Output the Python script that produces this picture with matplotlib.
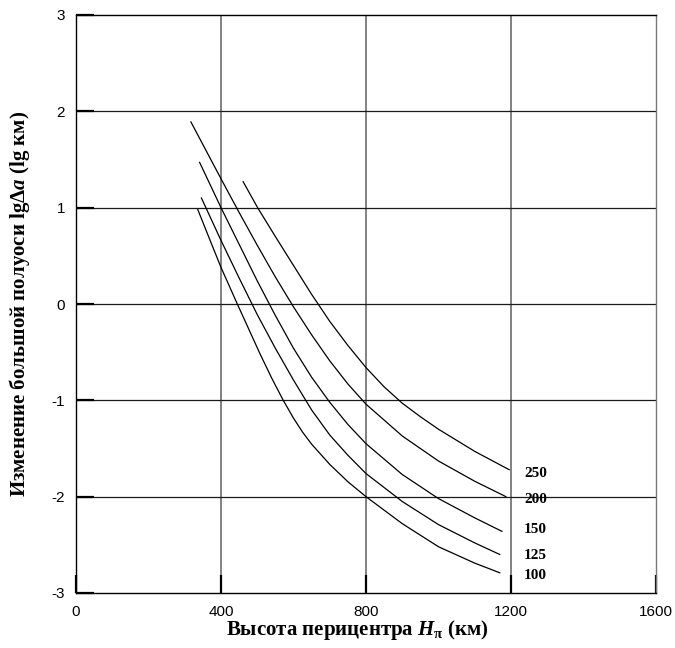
import numpy as np
import matplotlib
matplotlib.use("Agg")
import matplotlib.pyplot as plt

# ---- data ----
x_100 = [336, 370, 400, 445, 508, 540, 571, 600, 625, 650, 700, 750, 800, 900, 1000, 1100, 1169]
y_100 = [0.98, 0.66, 0.38, 0.0, -0.52, -0.77, -0.995, -1.185, -1.33, -1.455, -1.665, -1.845, -2.0, -2.28, -2.52, -2.69, -2.79]

x_125 = [346, 400, 450, 500, 550, 600, 650, 700, 750, 800, 900, 1000, 1100, 1169]
y_125 = [1.10, 0.66, 0.27, -0.11, -0.46, -0.79, -1.10, -1.36, -1.57, -1.76, -2.05, -2.29, -2.48, -2.60]

x_150 = [341, 400, 450, 500, 550, 600, 650, 700, 750, 800, 900, 1000, 1100, 1175]
y_150 = [1.47, 1.0, 0.62, 0.24, -0.12, -0.46, -0.76, -1.02, -1.25, -1.45, -1.77, -2.02, -2.22, -2.36]

x_200 = [317, 400, 450, 500, 550, 600, 650, 700, 750, 800, 900, 1000, 1100, 1186]
y_200 = [1.89, 1.30, 0.95, 0.61, 0.28, -0.03, -0.32, -0.59, -0.83, -1.04, -1.37, -1.63, -1.84, -2.0]

x_250 = [461, 501, 550, 600, 650, 700, 750, 800, 850, 900, 950, 1000, 1100, 1195]
y_250 = [1.27, 1.0, 0.70, 0.40, 0.10, -0.18, -0.43, -0.66, -0.86, -1.03, -1.17, -1.30, -1.53, -1.72]

curve_labels = ["250", "200", "150", "125", "100"]
label_y = [-1.755, -2.03, -2.34, -2.61, -2.82]
label_x = 1236

x_ticks = [0, 400, 800, 1200, 1600]
y_ticks = [-3, -2, -1, 0, 1, 2, 3]

xlabel = "Высота перицентра $\\mathit{H}_{\\mathrm{\\pi}}$ (км)"
ylabel = "Изменение большой полуоси lgΔ$\\mathit{a}$ (lg км)"

# ---- figure ----
plt.rcParams["mathtext.fontset"] = "custom"
plt.rcParams["mathtext.rm"] = "Liberation Serif:bold"
plt.rcParams["mathtext.it"] = "Liberation Serif:italic:bold"
plt.rcParams["mathtext.bf"] = "Liberation Serif:bold"

fig = plt.figure(figsize=(6.75, 6.48), dpi=100)
ax = fig.add_axes([76 / 675, 1 - 593 / 648, 580 / 675, 578 / 648])

ax.set_xlim(0, 1600)
ax.set_ylim(-3, 3)

for xv in x_ticks[1:-1]:
    ax.axvline(xv, color="#777777", lw=1.3, zorder=1)
for yv in y_ticks[1:-1]:
    ax.axhline(yv, color="#1a1a1a", lw=0.9, zorder=1)

series = [(x_250, y_250), (x_200, y_200), (x_150, y_150), (x_125, y_125), (x_100, y_100)]
for xs, ys in series:
    ax.plot(xs, ys, color="black", lw=0.9, zorder=3, solid_joinstyle="round")

for lab, ly in zip(curve_labels, label_y):
    ax.text(label_x, ly, lab, fontsize=11, fontweight="bold",
            family="Liberation Serif", va="center", ha="left", zorder=4)

ax.set_xticks(x_ticks)
ax.set_yticks(y_ticks)
ax.set_xticklabels([str(v) for v in x_ticks], family="Liberation Sans", fontsize=11)
ax.set_yticklabels([str(v) for v in y_ticks], family="Liberation Sans", fontsize=11)
ax.tick_params(axis="both", direction="in", length=13, width=1.6, color="black")
ax.tick_params(axis="x", pad=9)
ax.tick_params(axis="y", pad=8)

for s in ax.spines.values():
    s.set_color("black")
    s.set_linewidth(1.0)
ax.spines["right"].set_color("#777777")

ax.set_xlabel(xlabel, fontsize=15, fontweight="bold", family="Liberation Serif", va="center")
ax.xaxis.set_label_coords(0.485, -0.064)
ax.set_ylabel(ylabel, fontsize=15, fontweight="bold", family="Liberation Serif", va="center")
ax.yaxis.set_label_coords(-0.098, 0.5)

fig.savefig("out.png", dpi=100)
